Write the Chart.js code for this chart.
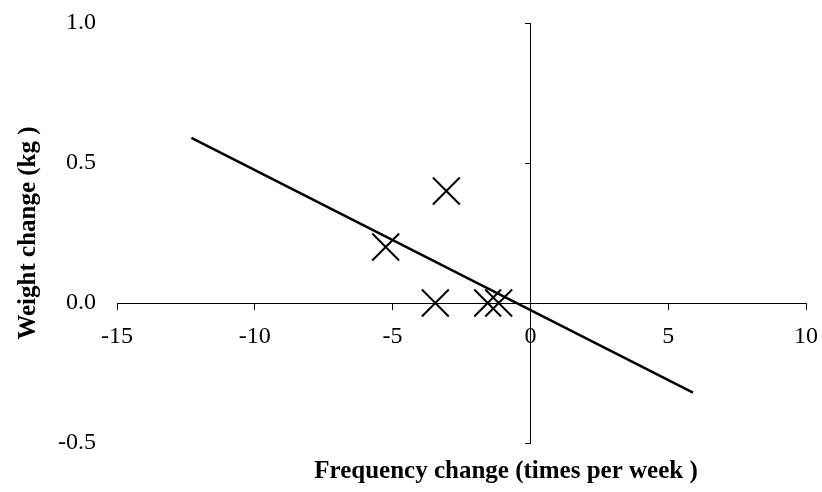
<!DOCTYPE html>
<html>
<head>
<meta charset="utf-8">
<script src="https://cdn.jsdelivr.net/npm/chart.js@4.4.1/dist/chart.umd.min.js"></script>
<style>
  html, body { margin: 0; padding: 0; background: #fff; }
  #wrap { width: 822px; height: 492px; }
</style>
</head>
<body>
<div id="wrap"><canvas id="chart"></canvas></div>
<script>
// --- data ---
const freqChange = [-5.25, -3.05, -3.45, -1.55, -1.15];   // times per week
const weightChange = [0.2, 0.4, 0.0, 0.0, 0.0];          // kg
const trendX = [-12.3, 5.9];                              // trendline ends
const trendY = [0.59, -0.32];
const xTickStep = 5;
const yTickStep = 0.5;
const xTitle = "Frequency change (times per week )";
const yTitle = "Weight change (kg )";

const serif = "'Liberation Serif', 'Times New Roman', serif";

// x axis title sits right of the plot centre, drawn as text after the chart
const xTitlePlugin = {
  id: "xTitle",
  afterDraw(chart) {
    const { ctx, chartArea } = chart;
    ctx.save();
    ctx.font = "bold 25px " + serif;
    ctx.fillStyle = "#000";
    ctx.textAlign = "center";
    ctx.textBaseline = "middle";
    ctx.fillText(xTitle, chartArea.left + 389, 472);
    ctx.restore();
  },
};

const points = freqChange.map((x, i) => ({ x: x, y: weightChange[i] }));
const trend = trendX.map((x, i) => ({ x: x, y: trendY[i] }));

new Chart(document.getElementById("chart"), {
  type: "scatter",
  data: {
    datasets: [
      {
        label: "data",
        data: points,
        pointStyle: "crossRot",
        pointRadius: 19,
        pointBorderWidth: 2,
        borderColor: "#000",
        backgroundColor: "#000",
      },
      {
        label: "trend",
        type: "line",
        data: trend,
        showLine: true,
        pointRadius: 0,
        borderColor: "#000",
        borderWidth: 2.5,
        fill: false,
      },
    ],
  },
  options: {
    responsive: true,
    maintainAspectRatio: false,
    animation: false,
    events: [],
    layout: { autoPadding: false, padding: { top: 23, right: 16, bottom: 49, left: 0 } },
    plugins: { legend: { display: false }, tooltip: { enabled: false } },
    scales: {
      // axes cross at the origin; they take no room in the layout
      x: {
        type: "linear",
        min: -15,
        max: 10,
        position: { y: 0 },
        grid: { display: true, drawOnChartArea: false, drawTicks: true, tickLength: 6, color: "#000", lineWidth: 1 },
        border: { display: true, color: "#000", width: 1 },
        ticks: { stepSize: xTickStep, color: "#000", padding: 13, font: { family: serif, size: 24 } },
        afterFit: (scale) => { scale.paddingLeft = 0; scale.paddingRight = 0; scale.height = 0; },
      },
      y: {
        type: "linear",
        min: -0.5,
        max: 1.0,
        position: { x: 0 },
        grid: { display: true, drawOnChartArea: false, drawTicks: true, tickLength: 5, color: "#000", lineWidth: 1 },
        border: { display: true, color: "#000", width: 1 },
        ticks: { display: false, stepSize: yTickStep },
        afterFit: (scale) => { scale.paddingTop = 0; scale.paddingBottom = 0; scale.width = 0; },
      },
      // y tick labels and title sit at the far left
      yl: {
        type: "linear",
        min: -0.5,
        max: 1.0,
        position: "left",
        grid: { display: false, drawTicks: false },
        border: { display: false },
        ticks: {
          stepSize: yTickStep,
          color: "#000",
          padding: 21,
          font: { family: serif, size: 24 },
          callback: (v) => v.toFixed(1),
        },
        title: {
          display: true,
          text: yTitle,
          color: "#000",
          padding: { top: 14, bottom: 0 },
          font: { family: serif, size: 25, weight: "bold" },
        },
        afterFit: (scale) => {
          scale.width = 117;
          scale.paddingTop = 0;
          scale.paddingBottom = 0;
        },
      },
    },
  },
  plugins: [xTitlePlugin],
});
</script>
</body>
</html>
